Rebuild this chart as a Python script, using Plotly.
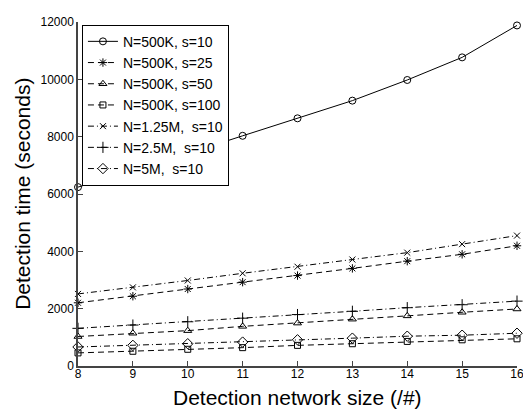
import plotly.graph_objects as go

x_sizes = [8, 9, 10, 11, 12, 13, 14, 15, 16]
y_ticks = [0, 2000, 4000, 6000, 8000, 10000, 12000]
y_tick_labels = ["0", "2000", "4000", "6000", "8000", "10000", "12000"]

series_names = ["N=500K, s=10", "N=500K, s=25", "N=500K, s=50", "N=500K, s=100",
                "N=1.25M,  s=10", "N=2.5M,  s=10", "N=5M,  s=10"]

y_500k_s10 = [6240, 6830, 7410, 8030, 8640, 9257, 9977, 10766, 11880]
y_500k_s25 = [2205, 2434, 2685, 2925, 3154, 3405, 3657, 3897, 4194]
y_500k_s50 = [1029, 1143, 1234, 1383, 1497, 1634, 1749, 1874, 1989]
y_500k_s100 = [457, 514, 583, 640, 720, 777, 857, 914, 949]
y_125m_s10 = [2514, 2743, 2983, 3234, 3463, 3714, 3954, 4251, 4549]
y_25m_s10 = [1314, 1428, 1543, 1668, 1794, 1908, 2034, 2137, 2263]
y_5m_s10 = [663, 720, 777, 834, 914, 971, 1040, 1074, 1143]

series_values = [y_500k_s10, y_500k_s25, y_500k_s50, y_500k_s100,
                 y_125m_s10, y_25m_s10, y_5m_s10]

symbols = ["circle-open", "asterisk-open", "triangle-up-open", "square-open",
           "x-thin-open", "cross-thin-open", "diamond-open"]
dashes = ["solid", "6px,4px", "6px,4px", "6px,4px",
          "6px,3px,1px,3px", "6px,3px,1px,3px", "6px,3px,1px,3px"]
sizes = [7, 7, 7, 6, 6, 8, 8]

fig = go.Figure()
for name, vals, sym, dash, sz in zip(series_names, series_values, symbols, dashes, sizes):
    fig.add_trace(go.Scatter(
        x=x_sizes, y=vals, name=name, mode="lines+markers",
        line=dict(color="black", width=1, dash=dash),
        marker=dict(symbol=sym, size=sz, color="black",
                    line=dict(color="black", width=1)),
        cliponaxis=False,
    ))

font_family = "Liberation Sans, Arial, sans-serif"
fig.update_layout(
    width=523, height=405,
    margin=dict(l=70, r=9, t=7, b=47),
    paper_bgcolor="white", plot_bgcolor="white",
    font=dict(family=font_family, color="black", size=12),
    showlegend=True,
    legend=dict(x=0.009, y=0.992, xanchor="left", yanchor="top",
                bordercolor="black", borderwidth=1, bgcolor="white",
                font=dict(size=14, family=font_family),
                tracegroupgap=0, itemwidth=30),
    xaxis=dict(range=[8, 16], tickvals=x_sizes, ticks="inside", ticklen=5,
               showline=True, linecolor="#444", linewidth=1.5, showgrid=False,
               zeroline=False, tickfont=dict(size=12), ticklabeloverflow="allow",
               ticklabelstandoff=-4),
    yaxis=dict(range=[0, 12000], tickvals=y_ticks, ticktext=y_tick_labels,
               ticks="inside", ticklen=5,
               showline=True, linecolor="#444", linewidth=1.5, showgrid=False,
               zeroline=False, tickfont=dict(size=12)),
    annotations=[
        dict(text="Detection network size (/#)", xref="paper", yref="paper",
             x=0.5, y=-0.093, xanchor="center", yanchor="middle",
             showarrow=False, font=dict(size=21)),
        dict(text="Detection time (seconds)", xref="paper", yref="paper",
             x=-0.128, y=0.5, xanchor="center", yanchor="middle", textangle=-90,
             showarrow=False, font=dict(size=21)),
    ],
)

fig.write_html("out.html")
